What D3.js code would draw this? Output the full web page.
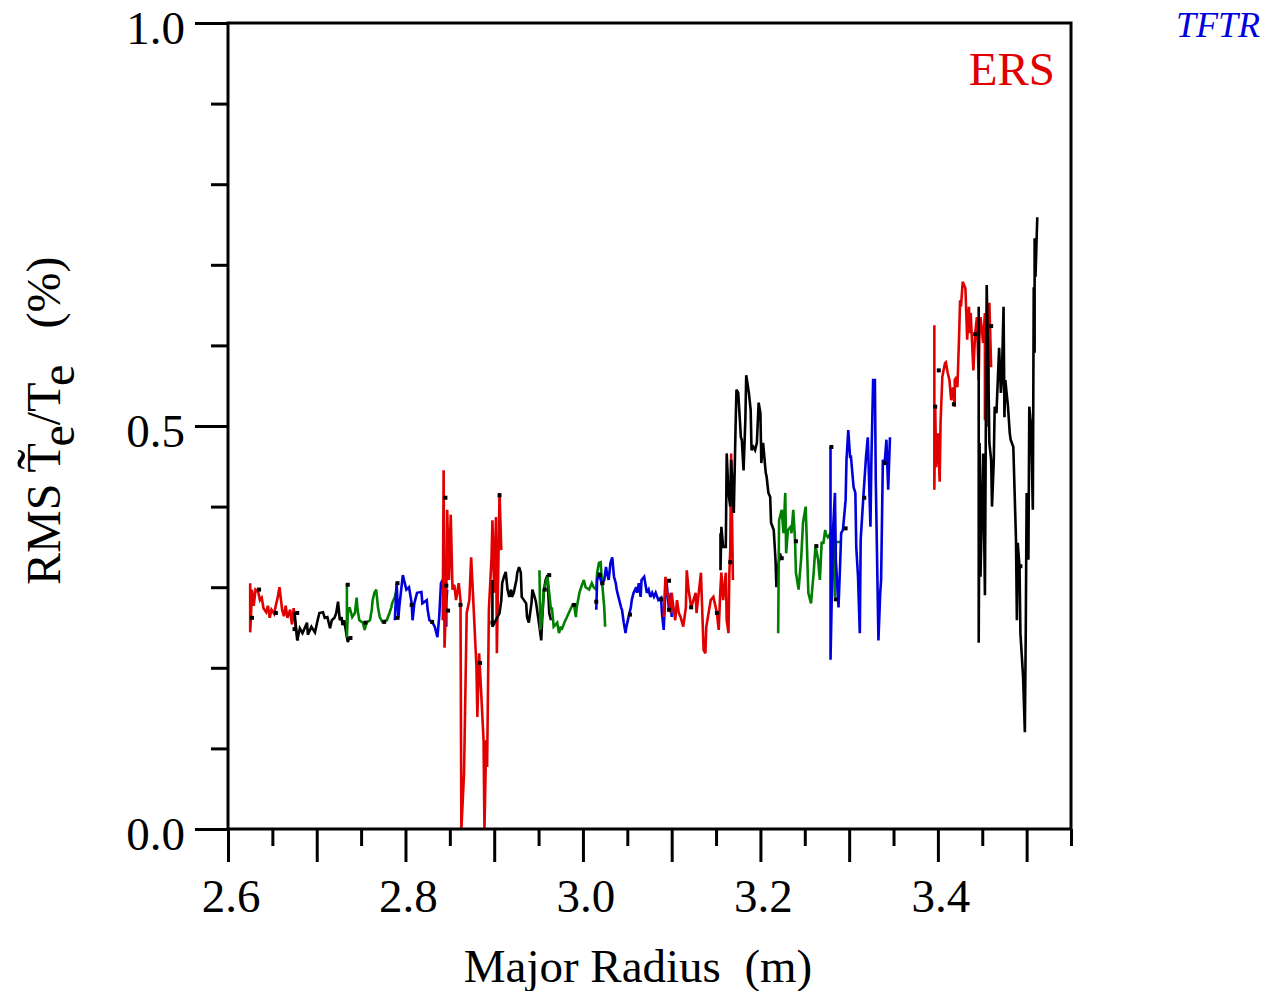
<!DOCTYPE html>
<html>
<head>
<meta charset="utf-8">
<script src="https://cdn.jsdelivr.net/npm/d3@7"></script>
<style>
body{margin:0;background:#fff;}
svg text{font-family:"Liberation Serif","Times New Roman",serif;}
</style>
</head>
<body>
<svg id="chart" width="1274" height="991"></svg>
<script>
// RMS Te fluctuation (%) against major radius (m), one array per channel group
var seg1=[[2.625,0.305],[2.625,0.244],[2.626,0.267],[2.627,0.297],[2.629,0.277],[2.631,0.297],[2.634,0.294],[2.636,0.284],[2.638,0.287],[2.640,0.274],[2.643,0.269],[2.645,0.277],[2.647,0.262],[2.649,0.272],[2.652,0.267],[2.654,0.278],[2.656,0.287],[2.658,0.300],[2.661,0.272],[2.663,0.264],[2.665,0.277],[2.667,0.262],[2.670,0.272],[2.672,0.254],[2.674,0.274],[2.676,0.252],[2.679,0.234]];
var seg2=[[2.675,0.269],[2.678,0.234],[2.681,0.249],[2.684,0.243],[2.689,0.256],[2.690,0.241],[2.694,0.251],[2.698,0.244],[2.701,0.259],[2.703,0.268],[2.707,0.269],[2.709,0.262],[2.712,0.263],[2.715,0.249],[2.717,0.259],[2.720,0.262],[2.722,0.268],[2.724,0.282],[2.726,0.259],[2.728,0.263],[2.729,0.253],[2.731,0.259],[2.734,0.238],[2.735,0.232],[2.737,0.238]];
var seg3=[[2.734,0.305],[2.734,0.238],[2.735,0.268],[2.737,0.275],[2.740,0.263],[2.743,0.268],[2.745,0.287],[2.746,0.272],[2.748,0.259],[2.752,0.256],[2.754,0.247],[2.756,0.256],[2.760,0.259],[2.762,0.272],[2.763,0.284],[2.765,0.293],[2.767,0.297],[2.769,0.275],[2.771,0.263],[2.774,0.257],[2.779,0.259],[2.782,0.268],[2.784,0.275],[2.785,0.280],[2.788,0.288],[2.790,0.297]];
var seg4=[[2.788,0.259],[2.790,0.305],[2.792,0.262],[2.793,0.275],[2.797,0.315],[2.801,0.297],[2.804,0.300],[2.807,0.280],[2.808,0.259],[2.810,0.280],[2.813,0.293],[2.818,0.294],[2.819,0.280],[2.824,0.284],[2.825,0.272],[2.827,0.259],[2.830,0.257],[2.833,0.251],[2.836,0.238],[2.838,0.263],[2.840,0.305],[2.842,0.309],[2.844,0.297],[2.846,0.251],[2.846,0.280],[2.847,0.297]];
var seg5=[[2.842,0.259],[2.843,0.445],[2.844,0.225],[2.846,0.290],[2.847,0.396],[2.849,0.309],[2.851,0.390],[2.853,0.297],[2.855,0.303],[2.857,0.284],[2.860,0.305],[2.862,0.284],[2.863,0.0],[2.866,0.069],[2.869,0.268],[2.872,0.284],[2.874,0.337],[2.876,0.293],[2.880,0.201],[2.881,0.139],[2.883,0.218],[2.885,0.176],[2.888,0.110],[2.889,0.0],[2.891,0.110],[2.892,0.077],[2.894,0.272],[2.897,0.337],[2.898,0.383],[2.900,0.293],[2.902,0.387],[2.903,0.218],[2.906,0.417],[2.908,0.346]];
var seg6=[[2.898,0.309],[2.898,0.251],[2.906,0.268],[2.908,0.284],[2.909,0.305],[2.911,0.313],[2.913,0.319],[2.915,0.297],[2.917,0.288],[2.919,0.297],[2.920,0.288],[2.922,0.293],[2.925,0.309],[2.926,0.318],[2.928,0.325],[2.930,0.318],[2.931,0.288],[2.936,0.280],[2.937,0.263],[2.939,0.256],[2.942,0.280],[2.943,0.297],[2.945,0.290],[2.947,0.282],[2.951,0.251],[2.953,0.234],[2.954,0.259],[2.956,0.297],[2.958,0.309],[2.960,0.315],[2.962,0.268],[2.964,0.259]];
var seg7=[[2.951,0.321],[2.952,0.247],[2.954,0.263],[2.956,0.297],[2.958,0.305],[2.960,0.313],[2.962,0.293],[2.964,0.272],[2.965,0.275],[2.967,0.251],[2.971,0.256],[2.973,0.243],[2.975,0.251],[2.976,0.247],[2.979,0.256],[2.982,0.263],[2.984,0.268],[2.987,0.275],[2.988,0.278],[2.990,0.278],[2.992,0.263],[2.993,0.275],[2.996,0.293],[2.998,0.300],[3.001,0.309],[3.003,0.300],[3.007,0.297],[3.010,0.305],[3.012,0.300],[3.015,0.297],[3.016,0.318],[3.018,0.330],[3.020,0.331],[3.021,0.313],[3.024,0.275],[3.025,0.251]];
var seg8=[[3.015,0.272],[3.016,0.309],[3.018,0.318],[3.021,0.305],[3.024,0.309],[3.026,0.325],[3.027,0.318],[3.029,0.309],[3.031,0.330],[3.033,0.337],[3.035,0.313],[3.037,0.305],[3.038,0.297],[3.040,0.288],[3.043,0.275],[3.044,0.272],[3.046,0.256],[3.048,0.243],[3.049,0.251],[3.052,0.266],[3.054,0.275],[3.055,0.284],[3.057,0.293],[3.060,0.300],[3.061,0.293],[3.063,0.305],[3.065,0.288],[3.066,0.309],[3.069,0.313],[3.071,0.300],[3.072,0.293],[3.074,0.297],[3.076,0.288],[3.078,0.293],[3.080,0.288],[3.082,0.293],[3.085,0.284],[3.088,0.287],[3.089,0.268],[3.091,0.247],[3.093,0.297],[3.094,0.309],[3.097,0.272],[3.099,0.293],[3.100,0.263]];
var seg9=[[3.091,0.263],[3.093,0.313],[3.094,0.297],[3.097,0.284],[3.099,0.268],[3.100,0.293],[3.102,0.275],[3.104,0.259],[3.106,0.284],[3.108,0.268],[3.110,0.263],[3.113,0.251],[3.116,0.275],[3.117,0.321],[3.119,0.297],[3.122,0.275],[3.127,0.293],[3.128,0.268],[3.133,0.318],[3.134,0.284],[3.136,0.222],[3.138,0.218],[3.139,0.251],[3.144,0.284],[3.147,0.288],[3.151,0.268],[3.153,0.247],[3.155,0.300],[3.156,0.318],[3.158,0.284],[3.161,0.318],[3.162,0.259],[3.164,0.243],[3.165,0.318],[3.166,0.346],[3.167,0.466],[3.169,0.309]];
var seg10=[[3.155,0.367],[3.155,0.321],[3.156,0.375],[3.158,0.350],[3.161,0.350],[3.162,0.466],[3.164,0.417],[3.166,0.400],[3.167,0.458],[3.170,0.392],[3.172,0.499],[3.173,0.545],[3.175,0.541],[3.178,0.486],[3.179,0.483],[3.181,0.445],[3.183,0.507],[3.184,0.563],[3.187,0.541],[3.189,0.520],[3.190,0.470],[3.192,0.474],[3.194,0.470],[3.196,0.479],[3.198,0.529],[3.200,0.516],[3.201,0.454],[3.203,0.479],[3.206,0.442],[3.207,0.437],[3.209,0.417],[3.211,0.412],[3.212,0.380],[3.215,0.371],[3.217,0.334],[3.218,0.300],[3.220,0.325],[3.222,0.342],[3.224,0.334]];
var seg11=[[3.220,0.243],[3.221,0.383],[3.224,0.396],[3.226,0.367],[3.228,0.417],[3.229,0.342],[3.231,0.371],[3.234,0.375],[3.235,0.367],[3.237,0.396],[3.239,0.359],[3.240,0.318],[3.243,0.297],[3.246,0.337],[3.248,0.380],[3.251,0.400],[3.252,0.367],[3.254,0.293],[3.257,0.280],[3.260,0.318],[3.262,0.350],[3.263,0.346],[3.265,0.334],[3.267,0.309],[3.269,0.355],[3.271,0.355],[3.273,0.371],[3.274,0.365],[3.276,0.362],[3.279,0.367],[3.280,0.334],[3.282,0.359],[3.284,0.288],[3.285,0.356],[3.290,0.356]];
var seg12=[[3.279,0.474],[3.279,0.210],[3.282,0.375],[3.284,0.417],[3.285,0.334],[3.288,0.275],[3.290,0.334],[3.291,0.367],[3.293,0.371],[3.296,0.408],[3.297,0.458],[3.299,0.495],[3.301,0.462],[3.302,0.462],[3.305,0.424],[3.307,0.417],[3.308,0.350],[3.310,0.313],[3.312,0.243],[3.313,0.359],[3.316,0.412],[3.318,0.445],[3.319,0.462],[3.321,0.486],[3.324,0.375],[3.325,0.454],[3.327,0.557],[3.329,0.557],[3.330,0.433],[3.333,0.234],[3.335,0.293],[3.336,0.309],[3.338,0.458],[3.340,0.454],[3.342,0.483],[3.344,0.421],[3.346,0.486]];
var seg13=[[3.396,0.625],[3.396,0.421],[3.397,0.524],[3.398,0.449],[3.400,0.491],[3.402,0.431],[3.403,0.504],[3.405,0.561],[3.408,0.578],[3.409,0.579],[3.411,0.566],[3.413,0.557],[3.415,0.532],[3.417,0.548],[3.419,0.524],[3.419,0.557],[3.421,0.561],[3.422,0.548],[3.424,0.615],[3.425,0.656],[3.426,0.648],[3.428,0.679],[3.431,0.671],[3.433,0.607],[3.435,0.648],[3.436,0.615],[3.437,0.640],[3.438,0.615],[3.440,0.569],[3.442,0.615],[3.444,0.635],[3.446,0.557],[3.447,0.628],[3.448,0.635],[3.451,0.603],[3.453,0.640],[3.453,0.507],[3.454,0.566],[3.455,0.499],[3.457,0.557],[3.458,0.653],[3.460,0.573]];
var seg14=[[3.446,0.648],[3.446,0.231],[3.447,0.479],[3.448,0.313],[3.451,0.466],[3.453,0.290],[3.454,0.495],[3.455,0.675],[3.457,0.557],[3.458,0.479],[3.460,0.458],[3.461,0.400],[3.463,0.458],[3.464,0.524],[3.466,0.516],[3.469,0.597],[3.471,0.541],[3.472,0.557],[3.474,0.648],[3.475,0.511],[3.476,0.557],[3.479,0.524],[3.481,0.491],[3.482,0.483],[3.485,0.474],[3.488,0.359],[3.489,0.259],[3.490,0.355],[3.492,0.325],[3.493,0.243],[3.496,0.189],[3.498,0.120],[3.499,0.243],[3.500,0.417],[3.502,0.334],[3.503,0.524],[3.505,0.499],[3.507,0.396],[3.508,0.672],[3.509,0.591],[3.509,0.733],[3.510,0.685],[3.512,0.759]];
var segments=[seg1,seg2,seg3,seg4,seg5,seg6,seg7,seg8,seg9,seg10,seg11,seg12,seg13,seg14];
var segColors=["#e00000","#000000","#007f00","#0000dd","#e00000","#000000","#007f00","#0000dd","#e00000","#000000","#007f00","#0000dd","#e00000","#000000"];
// small black markers sitting on the traces
var markers=[[2.635,0.297],[2.627,0.262],[2.654,0.268],[2.678,0.268],[2.675,0.248],[2.738,0.237],[2.735,0.303],[2.755,0.256],[2.776,0.257],[2.791,0.305],[2.791,0.262],[2.807,0.278],[2.830,0.257],[2.846,0.302],[2.848,0.271],[2.845,0.411],[2.862,0.278],[2.884,0.206],[2.906,0.414],[2.898,0.256],[2.957,0.297],[2.962,0.315],[2.990,0.278],[3.015,0.282],[3.019,0.315],[3.022,0.305],[3.053,0.266],[3.088,0.285],[3.097,0.308],[3.097,0.272],[3.122,0.275],[3.151,0.268],[3.166,0.331],[3.224,0.336],[3.240,0.357],[3.263,0.351],[3.280,0.474],[3.285,0.285],[3.296,0.373],[3.317,0.411],[3.340,0.454],[3.397,0.524],[3.401,0.569],[3.418,0.527],[3.442,0.614],[3.460,0.624],[3.493,0.326]];

var xMajor=[2.6,2.7,2.8,2.9,3.0,3.1,3.2,3.3,3.4,3.5];
var xMinor=[2.65,2.75,2.85,2.95,3.05,3.15,3.25,3.35,3.45,3.55];
var xLabels=["2.6","2.8","3.0","3.2","3.4"];
var yMajor=[0,0.5,1.0];
var yMinor=[0.1,0.2,0.3,0.4,0.6,0.7,0.8,0.9];
var yLabels=["0.0","0.5","1.0"];

var svg=d3.select("#chart");
var x=d3.scaleLinear().domain([2.6,3.55]).range([228,1071]);
var y=d3.scaleLinear().domain([0,1]).range([829,23]);

//data traces first, frame on top
var line=d3.line().x(function(d){return x(d[0]);}).y(function(d){return y(d[1]);});
svg.append("g").selectAll("path").data(segments).enter().append("path")
	.attr("d",line).attr("fill","none").attr("stroke-width",2.6).attr("stroke-linejoin","miter").attr("stroke-miterlimit",3)
	.attr("stroke",function(d,i){return segColors[i];});
svg.append("g").selectAll("rect").data(markers).enter().append("rect")
	.attr("x",function(d){return x(d[0])-2;}).attr("y",function(d){return y(d[1])-2;})
	.attr("width",4).attr("height",4).attr("fill","#000");

function styleAxis(g){
	g.select(".domain").remove();
	g.selectAll(".tick line").attr("stroke","#000").attr("stroke-width",3);
	g.selectAll(".tick text").remove();
}
svg.append("g").attr("transform","translate(0,"+y(0)+")").call(d3.axisBottom(x).tickValues(xMajor).tickSize(33)).call(styleAxis);
svg.append("g").attr("transform","translate(0,"+y(0)+")").call(d3.axisBottom(x).tickValues(xMinor).tickSize(17)).call(styleAxis);
svg.append("g").attr("transform","translate("+x(2.6)+",0)").call(d3.axisLeft(y).tickValues(yMajor).tickSize(33)).call(styleAxis);
svg.append("g").attr("transform","translate("+x(2.6)+",0)").call(d3.axisLeft(y).tickValues(yMinor).tickSize(17)).call(styleAxis);

svg.append("rect").attr("x",x(2.6)).attr("y",y(1)).attr("width",x(3.55)-x(2.6)).attr("height",y(0)-y(1))
	.attr("fill","none").attr("stroke","#000").attr("stroke-width",3);

svg.append("g").selectAll("text").data(xLabels).enter().append("text")
	.attr("x",function(d){return x(+d)+3;}).attr("y",912).attr("text-anchor","middle")
	.style("font-size","47px").text(function(d){return d;});
svg.append("g").selectAll("text").data(yLabels).enter().append("text")
	.attr("x",185).attr("y",function(d){return y(+d)+21;}).attr("text-anchor","end")
	.style("font-size","47px").text(function(d){return d;});

svg.append("text").attr("x",638).attr("y",982).attr("text-anchor","middle").attr("xml:space","preserve")
	.style("font-size","47px").style("white-space","pre").text("Major Radius  (m)");

// y title, built from pieces because of the tilde and the subscripts
var yt=svg.append("text").attr("transform","translate(60,585) rotate(-90)").attr("xml:space","preserve")
	.style("font-size","48px").style("white-space","pre");
yt.append("tspan").text("RMS ");
yt.append("tspan").text("T");
yt.append("tspan").attr("dy",14).text("e");
yt.append("tspan").attr("dy",-14).text("/T");
yt.append("tspan").attr("dy",14).text("e");
yt.append("tspan").attr("dy",-14).text("   (%)");
var tStart=yt.node().getSubStringLength(0,4);
var tW=yt.node().getSubStringLength(4,1);
svg.append("text").attr("transform","translate(60,585) rotate(-90)")
	.attr("x",tStart+tW/2).attr("y",-3).attr("text-anchor","middle").style("font-size","60px").text("\u02DC");

svg.append("text").attr("x",1055).attr("y",85).attr("text-anchor","end").attr("fill","#e00000")
	.style("font-size","47px").text("ERS");
svg.append("text").attr("x",1260).attr("y",37).attr("text-anchor","end").attr("fill","#0000dd")
	.style("font-size","36px").style("font-style","italic").text("TFTR");
</script>
</body>
</html>
